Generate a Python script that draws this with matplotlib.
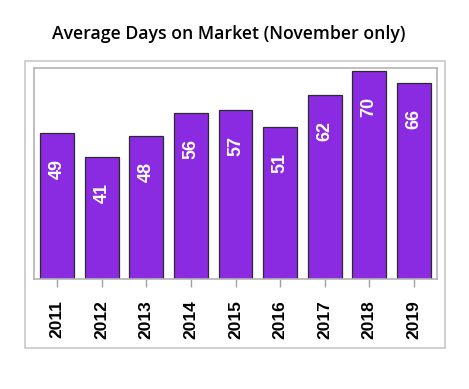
import matplotlib.pyplot as plt
from matplotlib.patches import Rectangle

years = ['2011', '2012', '2013', '2014', '2015', '2016', '2017', '2018', '2019']
days = [49, 41, 48, 56, 57, 51, 62, 70, 66]

W, H = 469, 389
fig = plt.figure(figsize=(W / 100, H / 100), dpi=100)

# axes box in pixels: left 34, right 437, top 68, bottom 279
ax = fig.add_axes([34 / W, 1 - 279 / H, (437 - 34) / W, (279 - 68) / H])

x = range(len(years))
ax.bar(x, days, width=0.76, color='#8A2BE2', edgecolor='#2b2b2b', linewidth=0.9, zorder=2)

for xi, v in zip(x, days):
    ax.annotate(str(v), (xi, v), xytext=(0, -36), textcoords='offset pixels',
                rotation=90, ha='center', va='center', color='white',
                fontsize=13, fontweight='bold', family='Liberation Sans')

ax.set_xlim(-0.52, len(years) - 0.48)
ax.set_ylim(0, 71)
ax.set_yticks([])
ax.set_xticks(list(x))
ax.set_xticklabels(years, rotation=90, fontsize=12.5, fontweight='bold', family='Liberation Sans')
ax.tick_params(axis='x', length=6, width=1, color='#a0a0a0', pad=9)
for s in ax.spines.values():
    s.set_color('#b4b4b4')
    s.set_linewidth(1.2)

# outer frame around the plot
fig.patches.append(Rectangle((25 / W, 1 - 348 / H), (445 - 25) / W, (348 - 61) / H,
                             transform=fig.transFigure, fill=False,
                             edgecolor='#c8c8c8', linewidth=1.2))

fig.text(229 / W, 1 - 34 / H, 'Average Days on Market (November only)',
         ha='center', va='center', fontsize=12.7, fontweight='semibold', family='Open Sans')

fig.savefig('out.png', dpi=100)
